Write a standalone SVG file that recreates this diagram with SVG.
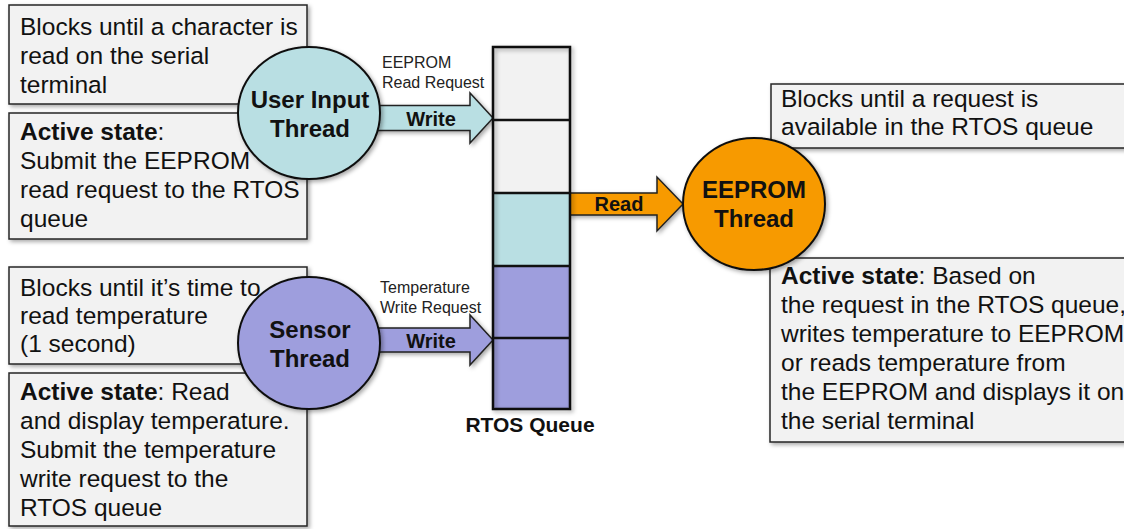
<svg xmlns="http://www.w3.org/2000/svg" width="1124" height="529" viewBox="0 0 1124 529">
<defs>
<filter id="sh" x="-10%" y="-10%" width="130%" height="130%">
<feDropShadow dx="2" dy="2" stdDeviation="2" flood-color="#000" flood-opacity="0.35"/>
</filter>
<style>
.box{fill:#f2f2f2;stroke:#262626;stroke-width:1.5;filter:url(#sh)}
.t{font-family:"Liberation Sans",Arial,sans-serif;font-size:24.5px;fill:#111}
.b{font-weight:bold}
.node{stroke:#111;stroke-width:2;filter:url(#sh)}
.nt{font-family:"Liberation Sans",Arial,sans-serif;font-size:24px;font-weight:bold;fill:#111;text-anchor:middle}
.arr{stroke:#222;stroke-width:1.5;filter:url(#sh)}
.at{font-family:"Liberation Sans",Arial,sans-serif;font-size:20px;font-weight:bold;fill:#111;text-anchor:middle}
.st{font-family:"Liberation Sans",Arial,sans-serif;font-size:16px;fill:#222}
.q{stroke:#111;stroke-width:2.5}
</style>
</defs>
<rect width="1124" height="529" fill="#fff"/>

<g id="ui-blocked">
<rect class="box" x="9" y="5" width="298" height="99"/>
<text class="t" x="20" y="35">Blocks until a character is</text>
<text class="t" x="20" y="64">read on the serial</text>
<text class="t" x="20" y="93">terminal</text>
</g>
<g id="ui-active">
<rect class="box" x="9" y="113" width="298" height="126"/>
<text class="t" x="20" y="140"><tspan class="b">Active state</tspan>:</text>
<text class="t" x="20" y="169">Submit the EEPROM</text>
<text class="t" x="20" y="198">read request to the RTOS</text>
<text class="t" x="20" y="227">queue</text>
</g>
<g id="sensor-blocked">
<rect class="box" x="9" y="267" width="298" height="97"/>
<text class="t" x="20" y="296">Blocks until it’s time to</text>
<text class="t" x="20" y="324">read temperature</text>
<text class="t" x="20" y="352">(1 second)</text>
</g>
<g id="sensor-active">
<rect class="box" x="9" y="373" width="298" height="153"/>
<text class="t" x="20" y="400"><tspan class="b">Active state</tspan>: Read</text>
<text class="t" x="20" y="429">and display temperature.</text>
<text class="t" x="20" y="458">Submit the temperature</text>
<text class="t" x="20" y="487">write request to the</text>
<text class="t" x="20" y="516">RTOS queue</text>
</g>
<g id="eeprom-blocked">
<rect class="box" x="771" y="84" width="370" height="64"/>
<text class="t" x="781" y="107">Blocks until a request is</text>
<text class="t" x="781" y="135">available in the RTOS queue</text>
</g>
<g id="eeprom-active">
<rect class="box" x="770" y="258" width="370" height="184"/>
<text class="t" x="781" y="284"><tspan class="b">Active state</tspan>: Based on</text>
<text class="t" x="781" y="313">the request in the RTOS queue,</text>
<text class="t" x="781" y="342">writes temperature to EEPROM</text>
<text class="t" x="781" y="371">or reads temperature from</text>
<text class="t" x="781" y="400">the EEPROM and displays it on</text>
<text class="t" x="781" y="429">the serial terminal</text>
</g>

<g id="connectors">
<path class="arr" fill="#b9dfe3" d="M370 105.5 H470 V93 L493 118 L470 143 V130.5 H370 Z"/>
<text class="at" x="431" y="126">Write</text>
<text class="st" x="382" y="68">EEPROM</text>
<text class="st" x="382" y="88">Read Request</text>
<path class="arr" fill="#9e9edd" d="M370 328 H470 V315 L493 340 L470 365 V352 H370 Z"/>
<text class="at" x="431" y="348">Write</text>
<text class="st" x="380" y="293">Temperature</text>
<text class="st" x="380" y="313">Write Request</text>
<path class="arr" fill="#f79a00" d="M568 193 H657 V177 L683 204 L657 231 V215 H568 Z"/>
<text class="at" x="619" y="211">Read</text>
</g>

<g id="queue">
<rect x="493" y="47" width="77" height="73" fill="#f2f2f2"/>
<rect x="493" y="120" width="77" height="73" fill="#f2f2f2"/>
<rect x="493" y="193" width="77" height="73" fill="#b9dfe3"/>
<rect x="493" y="266" width="77" height="143" fill="#9e9edd"/>
<rect class="q" x="493" y="47" width="77" height="362" fill="none" filter="url(#sh)"/>
<line class="q" x1="493" y1="120" x2="570" y2="120"/>
<line class="q" x1="493" y1="193" x2="570" y2="193"/>
<line class="q" x1="493" y1="266" x2="570" y2="266"/>
<line class="q" x1="493" y1="338" x2="570" y2="338"/>
<text class="at" x="530" y="432" style="font-size:21px">RTOS Queue</text>
</g>

<g id="user-input-thread">
<ellipse class="node" cx="309" cy="113" rx="71" ry="66" fill="#b9dfe3"/>
<text class="nt" x="310" y="108">User Input</text>
<text class="nt" x="310" y="137">Thread</text>
</g>
<g id="sensor-thread">
<ellipse class="node" cx="309" cy="343" rx="71" ry="66" fill="#9e9edd"/>
<text class="nt" x="310" y="338">Sensor</text>
<text class="nt" x="310" y="367">Thread</text>
</g>
<g id="eeprom-thread">
<ellipse class="node" cx="754" cy="204" rx="71" ry="66" fill="#f79a00"/>
<text class="nt" x="754" y="198">EEPROM</text>
<text class="nt" x="754" y="227">Thread</text>
</g>
</svg>
